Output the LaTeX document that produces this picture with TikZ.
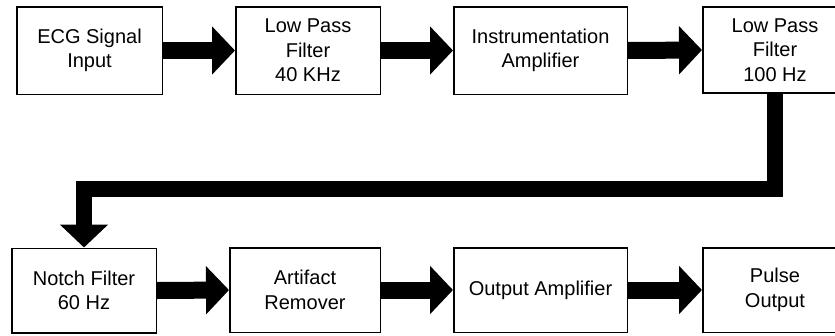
\documentclass[tikz,border=0pt]{standalone}
\usepackage{fontspec}
\setmainfont{Liberation Sans}
\usetikzlibrary{arrows.meta}
\begin{document}
\begin{tikzpicture}[x=1pt,y=-1pt,
  blockbox/.style={draw=black, line width=1.5pt, fill=white, inner sep=0pt, align=center,
    font=\fontsize{20}{24.5}\selectfont},
  flow/.style={draw=black, line width=17pt, line join=miter,
    -{Triangle[length=23pt,width=47pt]}},
  longflow/.style={flow, line width=15.5pt}]
\useasboundingbox (0,0) rectangle (835,335);
\clip (0,0) rectangle (835,335);
\fill[white] (0,0) rectangle (835,335);
% top row
\node[blockbox, minimum width=145.5pt, minimum height=87.5pt] (b1) at (89.5,50.5) {ECG Signal\\Input};
\node[blockbox, minimum width=144.5pt, minimum height=87.5pt] (b2) at (308,50.5) {Low Pass\\Filter\\40 KHz};
\node[blockbox, minimum width=173.5pt, minimum height=87.5pt] (b3) at (540.5,50.5) {Instrumentation\\Amplifier};
\node[blockbox, minimum width=144.5pt, minimum height=86pt] (b4) at (775,50) {Low Pass\\Filter\\100 Hz};
% bottom row
\node[blockbox, minimum width=144.5pt, minimum height=84.5pt] (b5) at (84,290.5) {Notch Filter\\60 Hz};
\node[blockbox, minimum width=150.5pt, minimum height=84.5pt] (b6) at (305,290) {Artifact\\Remover};
\node[blockbox, minimum width=173.5pt, minimum height=84.5pt] (b7) at (540.5,290) {Output Amplifier};
\node[blockbox, minimum width=144.5pt, minimum height=84.5pt] (b8) at (775,290) {Pulse\\Output};
% connectors
\draw[flow] (b1.east) -- (b2.west);
\draw[flow] (b2.east) -- (b3.west);
\draw[flow] (b3.east) -- (b4.west);
\coordinate (turn) at (775,189);
\draw[longflow] (b4.south) -- (turn) -| (b5.north);
\draw[flow] (b5.east) -- (b6.west);
\draw[flow] (b6.east) -- (b7.west);
\draw[flow] (b7.east) -- (b8.west);
\end{tikzpicture}
\end{document}
